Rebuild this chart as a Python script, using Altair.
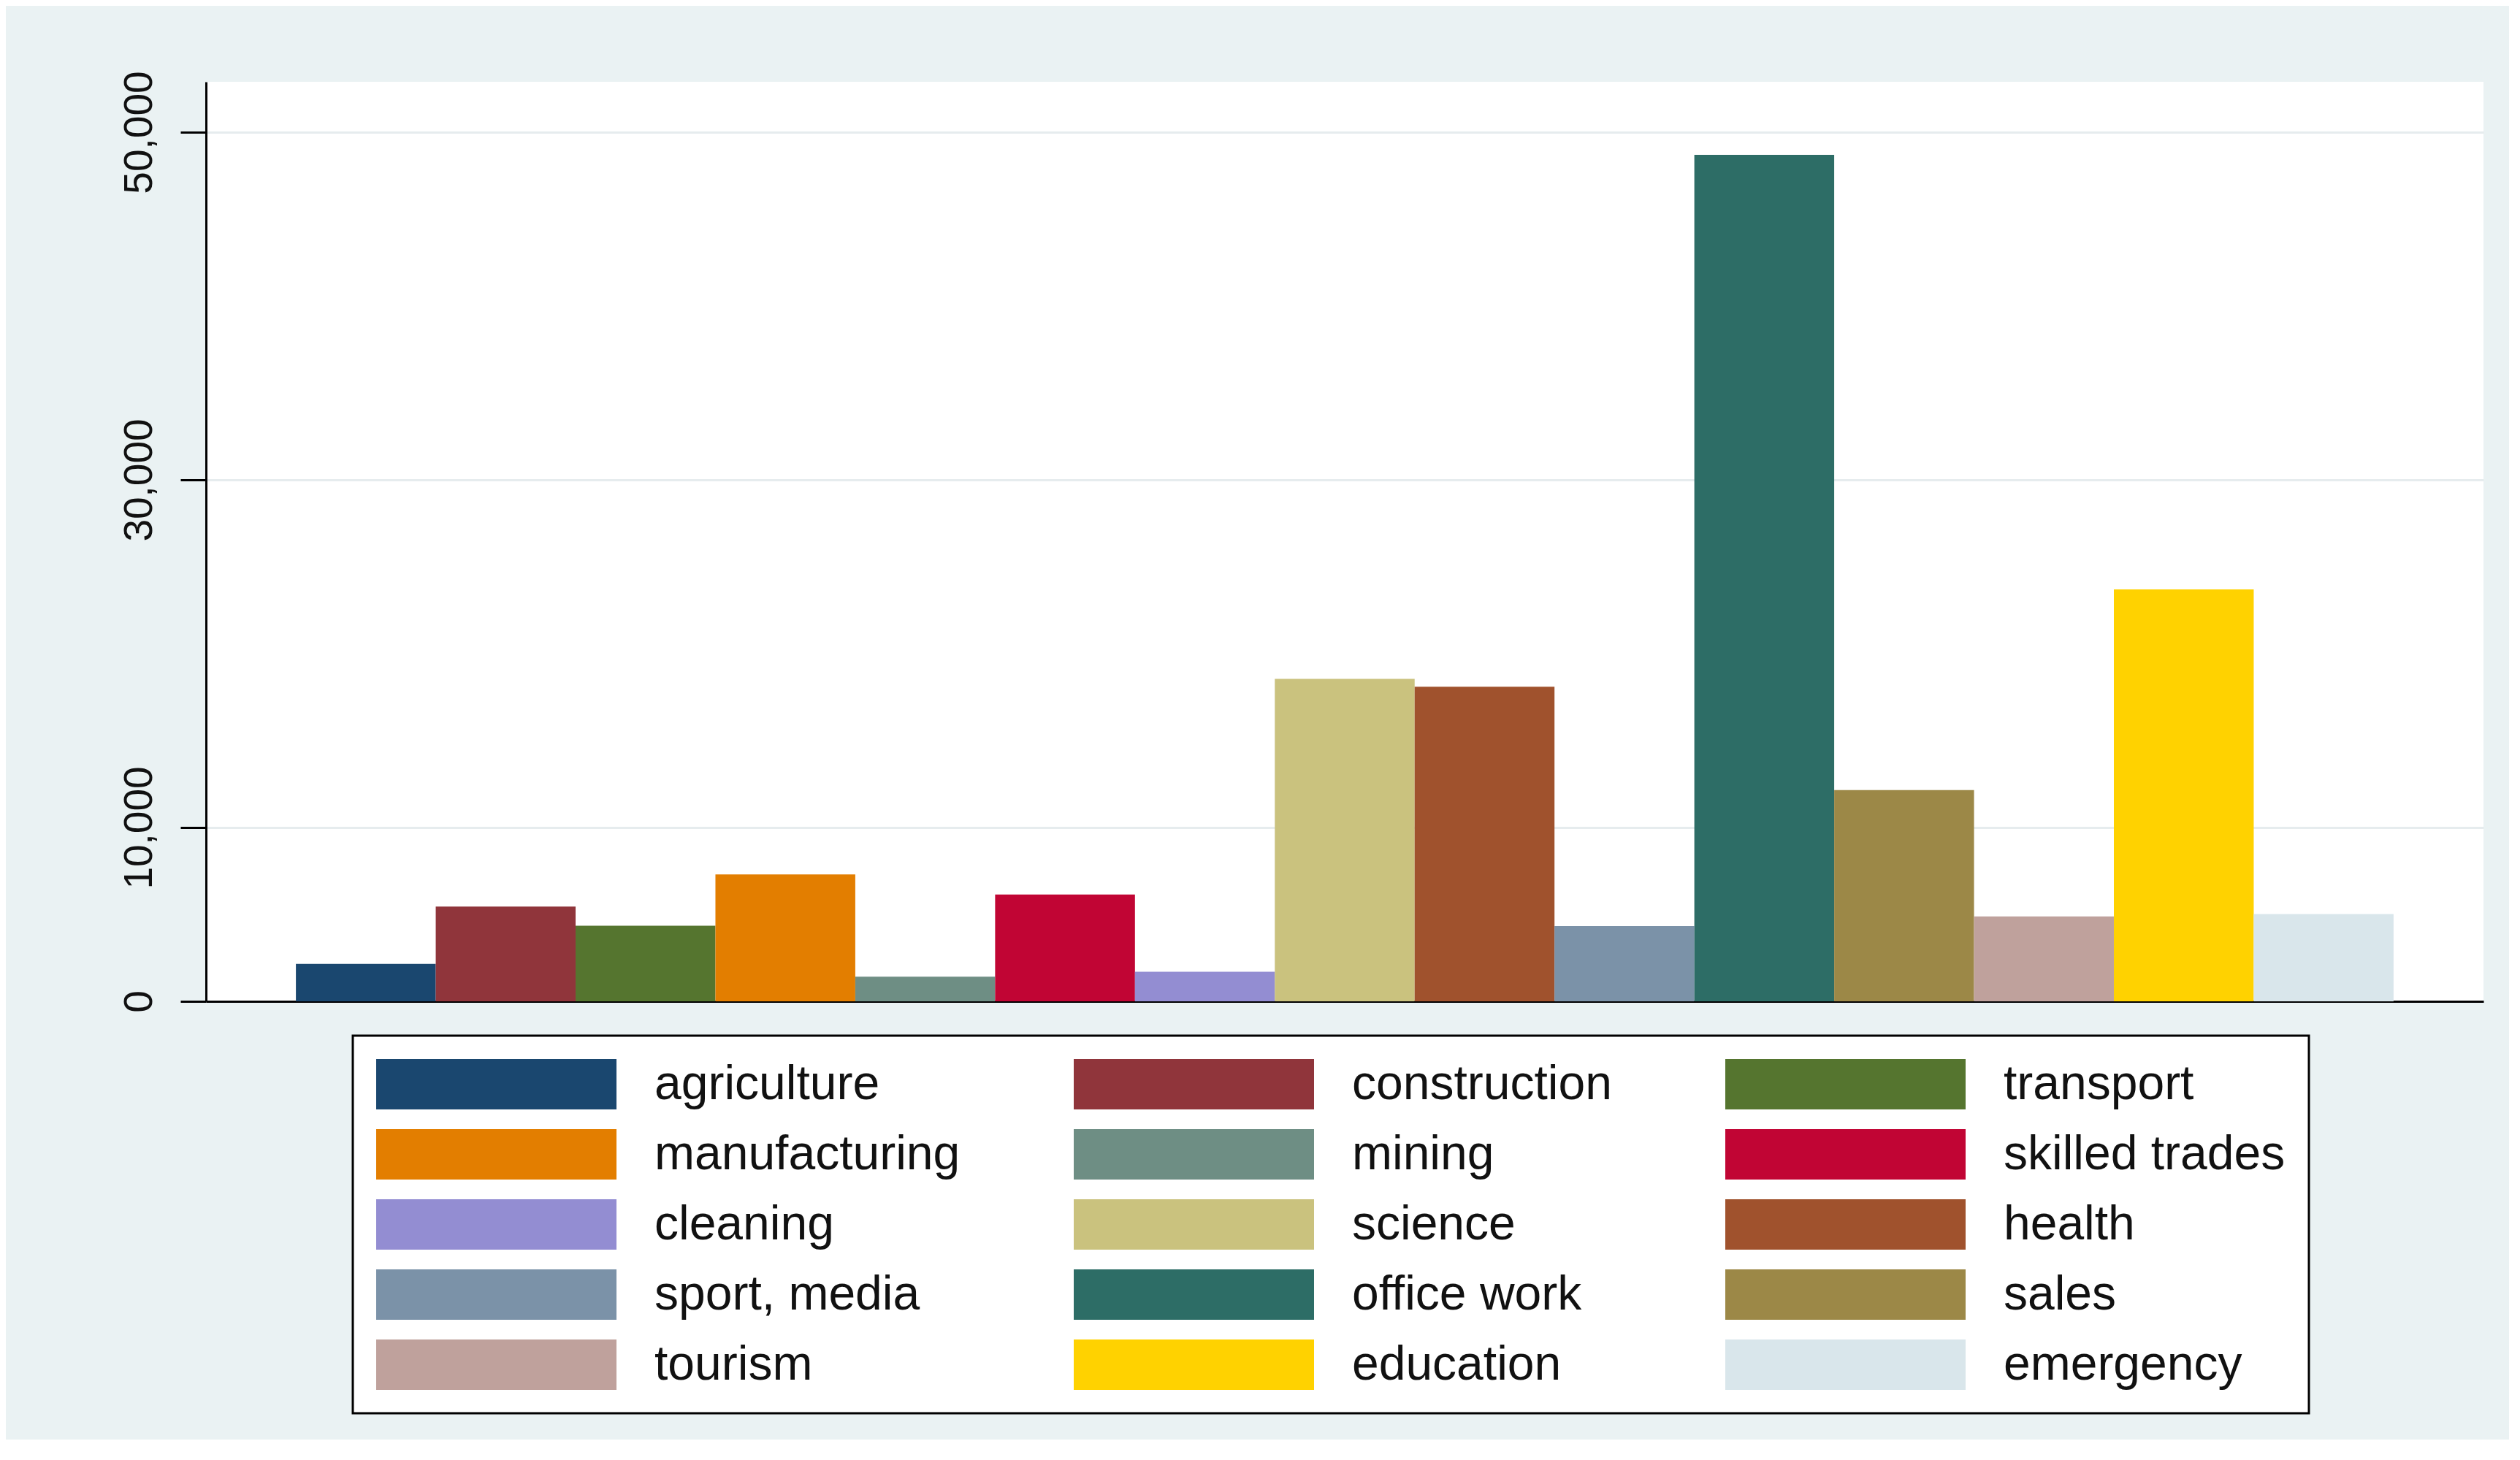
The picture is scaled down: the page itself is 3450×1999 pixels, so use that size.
import altair as alt
import pandas as pd

categories = ["agriculture", "construction", "transport", "manufacturing", "mining",
              "skilled trades", "cleaning", "science", "health", "sport, media",
              "office work", "sales", "tourism", "education", "emergency"]
values = [2150, 5450, 4350, 7300, 1420, 6150, 1700, 18550, 18100, 4330,
          48700, 12150, 4880, 23700, 5020]
colors = ["#1A476F", "#90353B", "#55752F", "#E37E00", "#6E8E84", "#C10534",
          "#938DD2", "#CAC27E", "#A0522D", "#7B92A8", "#2D6D66", "#9C8847",
          "#BFA19C", "#FFD200", "#D9E6EB"]
y_ticks = [0, 10000, 30000, 50000]
y_max = 52900

df = pd.DataFrame({"category": categories, "value": values})

chart = alt.Chart(df).mark_bar().encode(
    x=alt.X("category:N", sort=categories,
            scale=alt.Scale(paddingInner=0, paddingOuter=0.643),
            axis=alt.Axis(title=None, labels=False, ticks=False, domain=True,
                          domainColor="black", domainWidth=3, grid=False)),
    y=alt.Y("value:Q", scale=alt.Scale(domain=[0, y_max], nice=False, zero=True),
            axis=alt.Axis(title=None, values=y_ticks, format=",.0f", labelAngle=270,
                          labelAlign="center", labelBaseline="bottom",
                          labelFontSize=55, labelFont="Liberation Sans", labelColor="#111111",
                          labelPadding=28, tickSize=35, tickWidth=3, tickColor="black",
                          domainColor="black", domainWidth=3, grid=True,
                          gridColor="#E6ECEE", gridWidth=3, labelFlush=False,
                          labelOverlap=False)),
    color=alt.Color("category:N", sort=categories,
                    scale=alt.Scale(domain=categories, range=colors),
                    legend=alt.Legend(title=None, orient="none", legendX=201, legendY=1306,
                                      columns=3, direction="horizontal",
                                      symbolType="M-1,-0.21L1,-0.21L1,0.21L-1,0.21Z",
                                      symbolSize=108241, symbolStrokeWidth=0, symbolOpacity=1,
                                      clipHeight=69, labelFont="Liberation Sans",
                                      labelFontSize=66, labelColor="#111111", labelLimit=2000,
                                      labelOffset=52, columnPadding=155, rowPadding=27,
                                      padding=32, strokeColor="black", fillColor="white",
                                      cornerRadius=0))
).properties(
    width=3118, height=1259, background="#EAF2F3",
    padding={"left": 274, "top": 104, "right": 35, "bottom": 600},
    autosize=alt.AutoSizeParams(type="none")
).configure_view(fill="white", stroke=None).configure_legend(strokeWidth=3)

chart.save("out.html", embed_options={"renderer": "svg", "actions": False})
